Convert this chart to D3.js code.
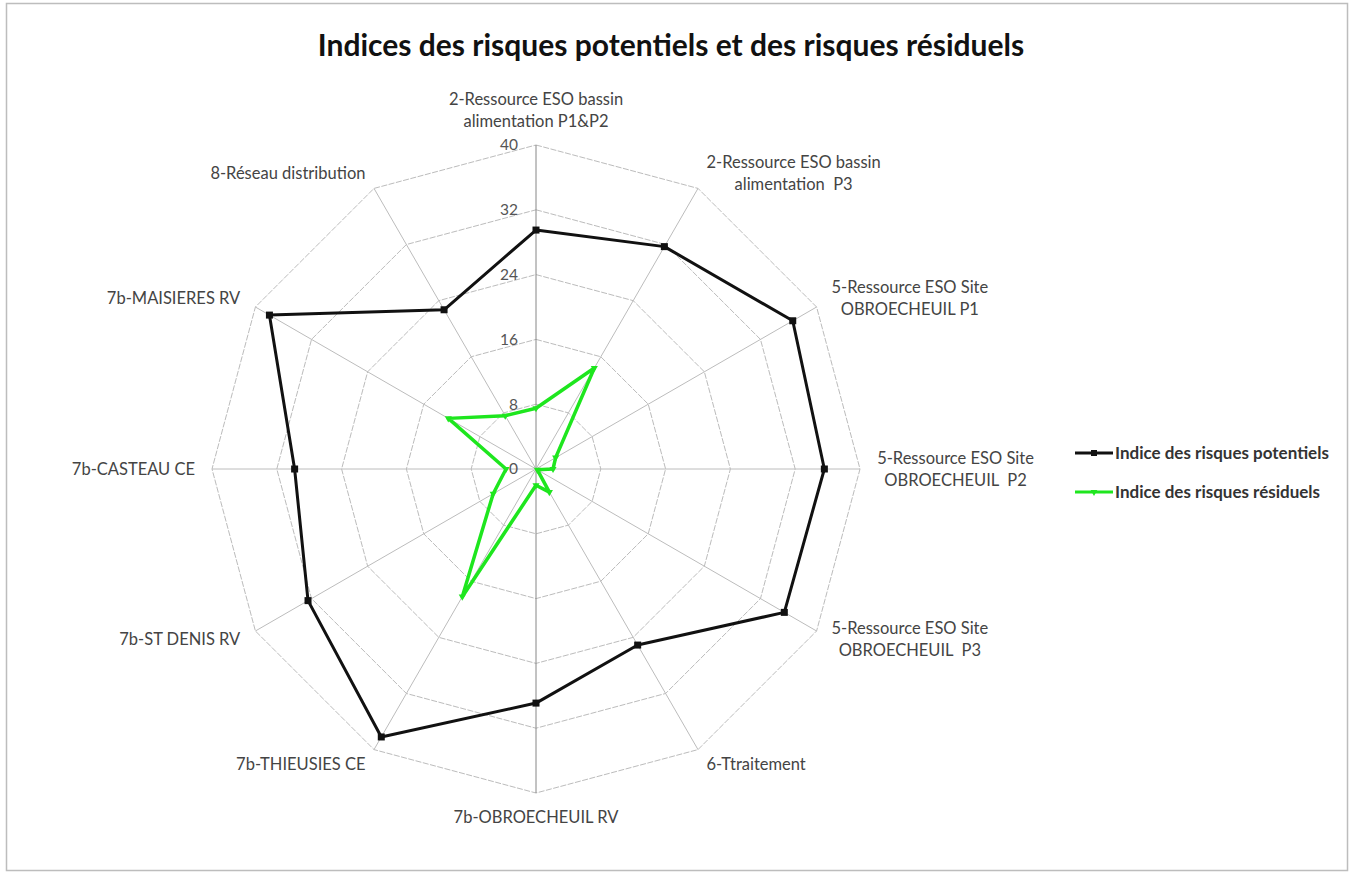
<!DOCTYPE html>
<html>
<head>
<meta charset="utf-8">
<script src="https://cdn.jsdelivr.net/npm/d3@7"></script>
<style>
  body { margin: 0; background: #fff; }
  svg text { font-family: Lato, "Open Sans", sans-serif; white-space: pre; }
</style>
</head>
<body>
<div id="chart"></div>
<script>
// categories (one array per label, one entry per line)
var categories = [
    ["2-Ressource ESO bassin", "alimentation P1&P2"],
    ["2-Ressource ESO bassin", "alimentation  P3"],
    ["5-Ressource ESO Site", "OBROECHEUIL P1"],
    ["5-Ressource ESO Site", "OBROECHEUIL  P2"],
    ["5-Ressource ESO Site", "OBROECHEUIL  P3"],
    ["6-Ttraitement"],
    ["7b-OBROECHEUIL RV"],
    ["7b-THIEUSIES CE"],
    ["7b-ST DENIS RV"],
    ["7b-CASTEAU CE"],
    ["7b-MAISIERES RV"],
    ["8-Réseau distribution"]
];
var potentiels = [29.5, 31.7, 36.6, 35.6, 35.4, 25.1, 28.9, 38.2, 32.5, 29.8, 38.0, 22.7];
var residuels = [7.5, 14.4, 2.8, 2.1, 0.2, 3.3, 2.0, 18.2, 6.1, 3.7, 12.5, 7.6];
var ticks = [0, 8, 16, 24, 32, 40];
var seriesNames = ["Indice des risques potentiels", "Indice des risques résiduels"];
var title = "Indices des risques potentiels et des risques résiduels";

// ######### PARAMETERS ###########
var width = 1354, height = 875;
var cx = 536, cy = 469, radius = 324;
var labelGap = 17, lineH = 22;
var black = "#111111", green = "#1ee61e", gridColor = "#bcbcbc";

var svg = d3.select("#chart").append("svg")
    .attr("width", width)
    .attr("height", height);

svg.append("rect").attr("width", width).attr("height", height).attr("fill", "#fff");
// chart frame
svg.append("rect")
    .attr("x", 6.5).attr("y", 3.5)
    .attr("width", 1341).attr("height", 867)
    .attr("fill", "none").attr("stroke", "#bdbdbd").attr("stroke-width", 1.5);

svg.append("text")
    .attr("x", 671).attr("y", 56)
    .attr("text-anchor", "middle")
    .style("font-size", "30px").style("font-weight", "bold")
    .attr("fill", "#111")
    .text(title);

var r = d3.scaleLinear().domain([0, 40]).range([0, radius]);
var angle = d3.scaleLinear().domain([0, categories.length]).range([0, 2 * Math.PI]);

var g = svg.append("g").attr("transform", "translate(" + cx + "," + cy + ")");

function pt(i, v) {
    var a = angle(i);
    return [Math.sin(a) * r(v), -Math.cos(a) * r(v)];
}

// rings
ticks.slice(1).forEach(function(t) {
    g.append("path")
        .attr("d", d3.line()(categories.map(function(c, i) { return pt(i, t); })) + "Z")
        .attr("fill", "none")
        .attr("stroke", gridColor)
        .attr("stroke-width", 1)
        .attr("stroke-dasharray", "6,1.5");
});

// spokes
categories.forEach(function(c, i) {
    var p = pt(i, 40);
    g.append("line")
        .attr("x1", 0).attr("y1", 0).attr("x2", p[0]).attr("y2", p[1])
        .attr("stroke", i === 0 || i === 6 ? "#868686" : gridColor)
        .attr("stroke-width", 1);
});

// value ticks
g.selectAll(".tick").data(ticks).enter().append("text")
    .attr("class", "tick")
    .attr("x", -18)
    .attr("y", function(d) { return -r(d); })
    .attr("dy", "0.35em")
    .attr("text-anchor", "end")
    .style("font-size", "15.5px")
    .attr("fill", "#555")
    .text(function(d) { return d; });

// category labels: top/bottom ones sit above/below the web, the others beside it
categories.forEach(function(lines, i) {
    var a = angle(i);
    var ux = Math.sin(a), uy = -Math.cos(a);
    var t = g.append("text")
        .attr("text-anchor", "middle")
        .style("font-size", "16.5px")
        .attr("fill", "#444");
    lines.forEach(function(s, k) {
        t.append("tspan").attr("x", 0).attr("y", (k - (lines.length - 1) / 2) * lineH)
            .attr("dy", "0.35em").text(s);
    });
    var w = t.node().getBBox().width, h = lines.length * lineH - 8;
    var px = (radius + labelGap) * ux, py = (radius + labelGap) * uy;
    if (Math.abs(ux) < 0.01) {
        py += uy * h / 2;
    } else {
        px += Math.sign(ux) * w / 2;
    }
    t.attr("transform", "translate(" + px + "," + py + ")");
});

// series
var radial = d3.lineRadial()
    .angle(function(d, i) { return angle(i); })
    .radius(function(d) { return r(d); })
    .curve(d3.curveLinearClosed);

g.append("path").attr("d", radial(residuels))
    .attr("fill", "none").attr("stroke", green).attr("stroke-width", 3.5)
    .attr("stroke-linejoin", "round");
g.append("path").attr("d", radial(potentiels))
    .attr("fill", "none").attr("stroke", black).attr("stroke-width", 3)
    .attr("stroke-linejoin", "round");

g.selectAll(".mk1").data(potentiels).enter().append("rect")
    .attr("x", function(d, i) { return pt(i, d)[0] - 3.5; })
    .attr("y", function(d, i) { return pt(i, d)[1] - 3.5; })
    .attr("width", 7).attr("height", 7).attr("fill", black);
g.selectAll(".mk2").data(residuels).enter().append("path")
    .attr("d", d3.symbol().type(d3.symbolTriangle).size(22))
    .attr("transform", function(d, i) { var p = pt(i, d); return "translate(" + p[0] + "," + p[1] + ") rotate(180)"; })
    .attr("fill", green);

// legend
var legend = svg.append("g").attr("transform", "translate(1075,453)");
[black, green].forEach(function(col, k) {
    var row = legend.append("g").attr("transform", "translate(0," + (k * 39) + ")");
    row.append("line").attr("x1", 0).attr("x2", 38).attr("stroke", col).attr("stroke-width", 3);
    if (k === 0) {
        row.append("rect").attr("x", 16).attr("y", -3).attr("width", 6).attr("height", 6).attr("fill", col);
    } else {
        row.append("path").attr("d", d3.symbol().type(d3.symbolTriangle).size(20))
            .attr("transform", "translate(19,0) rotate(180)").attr("fill", col);
    }
    row.append("text").attr("x", 40).attr("dy", "0.35em")
        .style("font-size", "17px").style("font-weight", "bold")
        .attr("fill", "#333").text(seriesNames[k]);
});
</script>
</body>
</html>
